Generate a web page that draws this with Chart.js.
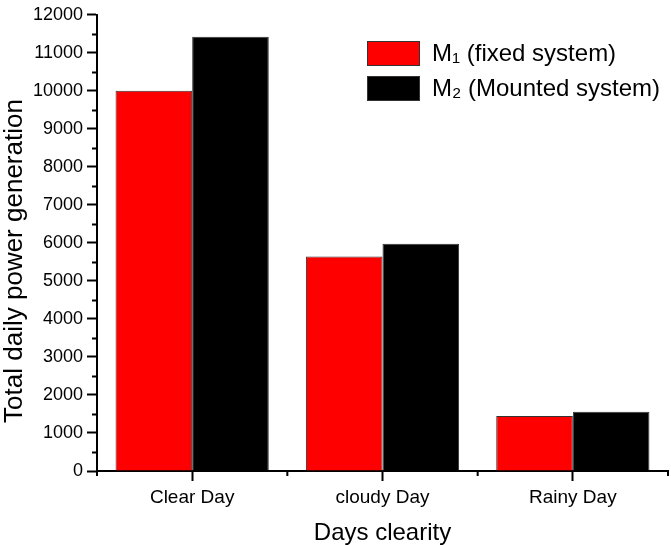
<!DOCTYPE html>
<html lang="en">
<head>
    <meta charset="UTF-8">
    <title>Total daily power generation</title>
    <script src="https://cdn.jsdelivr.net/npm/chart.js"></script>
    <style>
        html, body {
            margin: 0;
            padding: 0;
            background: #fff;
        }
        #wrap {
            width: 671px;
            height: 545px;
        }
    </style>
</head>
<body>
    <div id="wrap"><canvas id="power-chart"></canvas></div>

    <script>
        // values
        const categories = ['Clear Day', 'cloudy Day', 'Rainy Day'];
        const fixedSystem = [10000, 5640, 1450];
        const mountedSystem = [11420, 5980, 1560];
        const seriesLabels = ['M\u2081 (fixed system)', 'M\u2082 (Mounted system)'];
        const yMax = 12000;
        const yStep = 1000;
        const yTitle = 'Total daily power generation';
        const xTitle = 'Days clearity';

        const fontFamily = "'Liberation Sans', Arial, sans-serif";

        // origin-style minor ticks (half steps on y, category borders on x)
        const minorTicks = {
            id: 'minorTicks',
            afterDraw(chart) {
                const ctx = chart.ctx;
                const x = chart.scales.x;
                const y = chart.scales.y;
                ctx.save();
                ctx.strokeStyle = '#000';
                ctx.lineWidth = 2;
                ctx.beginPath();
                for (let v = yStep / 2; v < yMax; v += yStep) {
                    const py = Math.round(y.getPixelForValue(v)) + 0.5;
                    ctx.moveTo(x.left - 5, py);
                    ctx.lineTo(x.left, py);
                }
                const w = (x.right - x.left) / categories.length;
                for (let k = 0; k <= categories.length; k++) {
                    const px = x.left + k * w;
                    ctx.moveTo(px, y.bottom);
                    ctx.lineTo(px, y.bottom + 5);
                }
                ctx.stroke();
                ctx.restore();
            }
        };

        // y title sits a bit below the middle of the axis in the original
        const sideTitle = {
            id: 'sideTitle',
            afterDraw(chart) {
                const ctx = chart.ctx;
                ctx.save();
                ctx.translate(15, 261);
                ctx.rotate(-Math.PI / 2);
                ctx.font = '26px ' + fontFamily;
                ctx.fillStyle = '#000';
                ctx.textAlign = 'center';
                ctx.textBaseline = 'middle';
                ctx.fillText(yTitle, 0, 0);
                ctx.restore();
            }
        };

        // boxed legend drawn inside the plot, top right
        const boxLegend = {
            id: 'boxLegend',
            afterDraw(chart) {
                const ctx = chart.ctx;
                const left = 367, top = 41, boxW = 53, boxH = 25, gap = 10;
                ctx.save();
                ctx.font = '24px ' + fontFamily;
                ctx.textBaseline = 'middle';
                chart.data.datasets.forEach((ds, i) => {
                    const by = top + i * (boxH + gap);
                    ctx.fillStyle = ds.backgroundColor;
                    ctx.fillRect(left, by, boxW, boxH);
                    ctx.strokeStyle = '#333';
                    ctx.lineWidth = 1;
                    ctx.strokeRect(left + 0.5, by + 0.5, boxW - 1, boxH - 1);
                    ctx.fillStyle = '#000';
                    ctx.fillText(ds.label, left + boxW + 12, by + boxH / 2 + 1);
                });
                ctx.restore();
            }
        };

        const ctx = document.getElementById('power-chart').getContext('2d');
        new Chart(ctx, {
            type: 'bar',
            data: {
                labels: categories,
                datasets: [
                    {
                        label: seriesLabels[0],
                        data: fixedSystem,
                        backgroundColor: '#ff0000',
                        borderColor: '#333333',
                        borderWidth: 1
                    },
                    {
                        label: seriesLabels[1],
                        data: mountedSystem,
                        backgroundColor: '#000000',
                        borderColor: '#333333',
                        borderWidth: 1
                    }
                ]
            },
            options: {
                responsive: true,
                maintainAspectRatio: false,
                animation: false,
                layout: {
                    padding: { left: 0, right: 3, top: 10, bottom: 0 }
                },
                datasets: {
                    bar: {
                        categoryPercentage: 0.805,
                        barPercentage: 1.0
                    }
                },
                plugins: {
                    legend: { display: false },
                    tooltip: { enabled: false }
                },
                scales: {
                    x: {
                        afterFit(scale) { scale.height = 74; },
                        grid: {
                            offset: false,
                            drawOnChartArea: false,
                            drawTicks: true,
                            tickLength: 10,
                            tickColor: '#000',
                            tickWidth: 2
                        },
                        border: { color: '#000', width: 2 },
                        ticks: {
                            color: '#000',
                            font: { family: fontFamily, size: 19 },
                            padding: 5,
                            maxRotation: 0
                        },
                        title: {
                            display: true,
                            text: xTitle,
                            color: '#000',
                            font: { family: fontFamily, size: 24, lineHeight: 1 },
                            padding: { top: 0, bottom: 0 }
                        }
                    },
                    y: {
                        min: 0,
                        max: yMax,
                        afterFit(scale) { scale.width = 97; },
                        grid: {
                            drawOnChartArea: false,
                            drawTicks: true,
                            tickLength: 10,
                            tickColor: '#000',
                            tickWidth: 2
                        },
                        border: { color: '#000', width: 2 },
                        ticks: {
                            stepSize: yStep,
                            color: '#000',
                            font: { family: fontFamily, size: 18 },
                            padding: 4,
                            callback: (v) => String(v)
                        },
                        title: { display: false }
                    }
                }
            },
            plugins: [minorTicks, sideTitle, boxLegend]
        });
    </script>
</body>
</html>
